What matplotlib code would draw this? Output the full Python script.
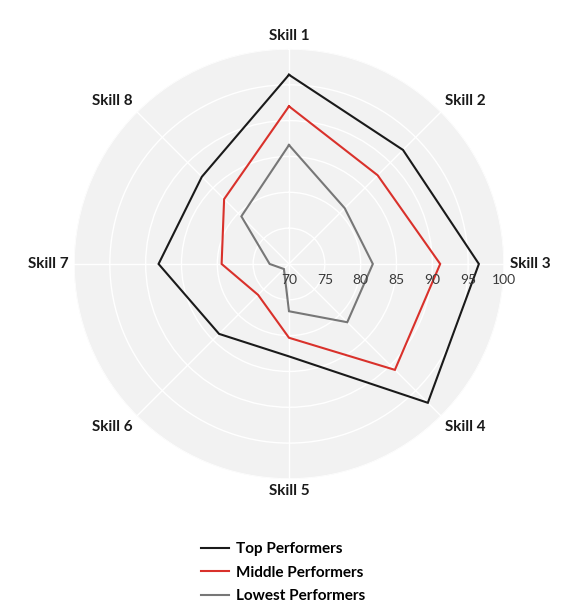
import numpy as np
import matplotlib
matplotlib.use("Agg")
import matplotlib.pyplot as plt

plt.rcParams['font.family'] = ['Lato', 'DejaVu Sans']

# Data
skills = ['Skill 1', 'Skill 2', 'Skill 3', 'Skill 4', 'Skill 5', 'Skill 6', 'Skill 7', 'Skill 8']
top = [96.4, 92.5, 96.5, 97.4, 82.9, 83.8, 88.2, 87.2]
middle = [92.0, 87.5, 91.1, 90.9, 80.3, 76.1, 79.4, 82.8]
lowest = [86.6, 81.0, 81.7, 81.5, 76.6, 71.0, 72.7, 79.4]
series_names = ['Top Performers', 'Middle Performers', 'Lowest Performers']
series_colors = ['#1a1a1a', '#d9312b', '#777777']
r_ticks = [70, 75, 80, 85, 90, 95, 100]

angles = np.linspace(0, 2 * np.pi, len(skills), endpoint=False)

fig = plt.figure(figsize=(5.71, 6.11), dpi=100)
ax = fig.add_axes([0.1296, 0.216, 0.753, 0.704], polar=True)
ax.set_theta_zero_location('N')
ax.set_theta_direction(-1)
ax.set_facecolor('#f2f2f2')
ax.spines['polar'].set_visible(False)
ax.set_ylim(r_ticks[0], r_ticks[-1])

# Series
for vals, name, col in zip([top, middle, lowest], series_names, series_colors):
    a = np.append(angles, angles[0])
    v = np.append(vals, vals[0])
    ax.plot(a, v, color=col, linewidth=1.5, label=name, solid_joinstyle='miter')

# Grid
ax.set_xticks(angles)
ax.set_xticklabels([])
ax.set_yticks(r_ticks)
ax.set_yticklabels([])
ax.grid(True, color='white', linewidth=1.0)

# Radial labels along the Skill 3 spoke
for r in r_ticks:
    ax.annotate(str(r), xy=(np.pi / 2, r), xytext=(0, -7), textcoords='offset points',
                ha='center', va='top', fontsize=10, color='#3a3a3a')

# Category labels
for ang, name in zip(angles, skills):
    s, c = np.sin(ang), np.cos(ang)
    ha = 'center' if abs(s) < 0.1 else ('left' if s > 0 else 'right')
    va = 'center' if abs(c) < 0.1 else ('bottom' if c > 0 else 'top')
    ax.annotate(name, xy=(ang, 100), xytext=(4 * s, 4 * c), textcoords='offset points',
                ha=ha, va=va, fontsize=11, fontweight='bold', color='#1a1a1a',
                annotation_clip=False)

fig.legend(loc='upper left', bbox_to_anchor=(0.328, 0.135), frameon=False,
           handlelength=1.8, handletextpad=0.5, labelspacing=0.62,
           prop={'weight': 'bold', 'size': 11})

fig.savefig('out.png', dpi=100, facecolor='white')
